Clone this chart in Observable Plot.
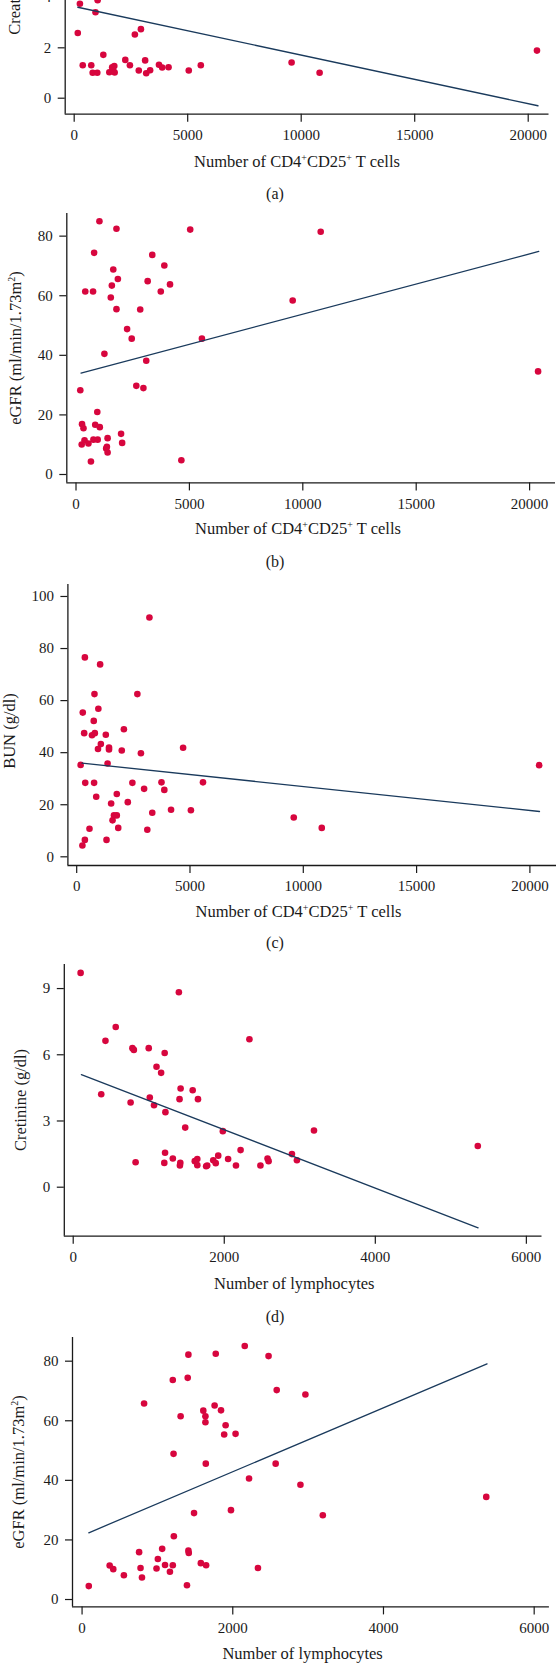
<!DOCTYPE html>
<html><head><meta charset="utf-8">
<script src="https://cdn.jsdelivr.net/npm/d3@7"></script>
<script src="https://cdn.jsdelivr.net/npm/@observablehq/plot@0.6"></script>
<style>
body{margin:0;background:#fff;}
#fig{position:relative;width:556px;height:1664px;overflow:hidden;font-family:"Liberation Serif",serif;color:#1a1a1a;background:#fff;}
.lbl{position:absolute;white-space:nowrap;transform:translate(-50%,-50%);font-size:16.5px;line-height:1;}
.ylbl{position:absolute;white-space:nowrap;transform:translate(-50%,-50%) rotate(-90deg);font-size:16.5px;line-height:1;}
.plab{position:absolute;white-space:nowrap;transform:translate(-50%,-50%);font-size:16px;line-height:1;}
sup{font-size:0.6em;vertical-align:0.55em;line-height:0;}
</style></head><body><div id="fig"></div>
<script>
// ---------- data ----------
// (a) CD4+CD25+ T cells vs creatinine (visible part)
const aX = [252,1033,939,158,2673,2939,1283,377,752,814,1017,1548,1673,1767,1720,1783,2251,2454,2845,3126,3173,3345,3735,3876,4157,5047,5578,9577,10811,20386];
const aY = [3.75,3.89,3.41,2.59,2.53,2.74,1.72,1.31,1.31,1.01,1.01,1.03,1.23,1.28,1.10,1.02,1.52,1.31,1.10,1.50,0.99,1.11,1.33,1.22,1.23,1.10,1.31,1.42,1.01,1.89];
const aFitX = [158, 20430];
const aFitY = [3.61, -0.30];

// (b) CD4+CD25+ T cells vs eGFR
const bX = [1033,1784,5035,10789,799,3363,3894,1643,1846,3160,1580,4145,408,752,3738,1534,9554,1784,2831,2253,2456,5552,1252,3097,20374,2659,2972,189,939,267,330,846,1049,1987,1393,2034,251,376,548,767,955,1330,1393,1362,658,4645];
const bY = [85.0,82.5,82.2,81.45,74.4,73.7,70.15,68.8,65.6,64.9,63.4,63.8,61.4,61.4,61.4,59.4,58.4,55.5,55.4,48.8,45.6,45.6,40.5,38.2,34.6,29.75,29.0,28.3,21.0,16.9,15.5,16.7,15.9,13.65,12.2,10.6,10.06,11.5,10.4,11.7,11.7,8.7,7.4,9.3,4.35,4.8];
const bFitX = [220, 20405];
const bFitY = [34.0, 74.85];

// (c) CD4+CD25+ T cells vs BUN
const cX = [3210,361,1034,784,2678,956,268,753,2083,330,675,800,1285,1066,940,1426,1426,1989,2834,4696,174,1363,20408,377,768,2458,3742,5573,2975,3867,862,1770,1520,2255,4164,5040,3335,1645,1770,1582,1833,565,3116,9579,10815,361,1316,252];
const cY = [91.94,76.6,73.9,62.5,62.5,56.9,55.4,52.2,49.0,47.5,46.7,47.5,46.9,43.3,41.4,42.0,41.2,40.85,39.8,41.9,35.3,35.85,35.2,28.4,28.4,28.4,28.6,28.6,26.1,25.7,23.05,24.1,20.5,21.0,18.05,17.9,16.9,15.9,15.9,14.0,11.1,10.75,10.4,15.1,11.1,6.5,6.5,4.35];
const cFitX = [236, 20424];
const cFitY = [36.0, 17.4];

// (d) lymphocytes vs creatinine
const dX = [98,1399,563,427,2333,784,803,1000,1211,1103,1164,371,1422,1582,760,1014,1408,1652,1070,1221,1483,1981,3188,5357,1216,2216,2896,1319,2051,2573,1643,826,1206,1418,1413,1610,1643,1760,1774,1854,1887,1920,2155,2479,2587,2962];
const dY = [9.71,8.83,7.26,6.63,6.70,6.30,6.22,6.30,6.08,5.46,5.18,4.21,4.47,4.39,3.84,4.06,3.99,3.99,3.71,3.40,2.70,2.54,2.57,1.87,1.56,1.68,1.50,1.30,1.28,1.30,1.28,1.13,1.10,1.10,0.98,1.18,1.00,0.95,0.98,1.22,1.09,1.43,0.98,0.98,1.18,1.22];
const dFitX = [108, 5361];
const dFitY = [5.10, -1.84];

// (e) lymphocytes vs eGFR
const eX = [2159,1411,1774,2475,1204,1402,2583,2964,823,1759,1609,1844,1308,1637,1637,1905,1886,2037,1214,1642,2569,2216,2898,5364,1976,1486,3195,1218,757,1063,1411,1416,1006,1576,366,414,776,988,1101,1204,1646,1166,2334,555,795,89,1392];
const eY = [85.1,82.2,82.5,81.7,73.7,74.4,70.3,68.8,65.8,65.1,63.4,63.5,61.5,61.5,59.5,58.5,55.4,55.6,48.9,45.6,45.6,40.6,38.5,34.45,30.0,29.0,28.3,21.25,15.9,17.0,16.4,15.6,13.6,12.2,11.4,10.2,10.6,10.4,11.6,11.5,11.5,9.3,10.6,8.15,7.4,4.5,4.8];
const eFitX = [89, 5374];
const eFitY = [22.4, 79.1];

// tick values
const cellTicks = [0, 5000, 10000, 15000, 20000];
const lymphTicks = [0, 2000, 4000, 6000];
const creatTicksA = [0, 2, 4, 6, 8, 10];
const egfrTicks = [0, 20, 40, 60, 80];
const bunTicks = [0, 20, 40, 60, 80, 100];
const creatTicksD = [0, 3, 6, 9];

// ---------- layout ----------
const fig = document.getElementById("fig");
const W = 556;

function panel(p, xs, ys, fitX, fitY, xTicks, yTicks) {
  const pts = xs.map((x, i) => ({x, y: ys[i]}));
  const fit = fitX.map((x, i) => ({x, y: fitY[i]}));
  const mt = 12, mb = 48;
  const h = Math.round(p.bottom - p.top) + mt + mb;
  const ink = "#1a1a1a";
  const svg = Plot.plot({
    width: W, height: h,
    marginTop: mt, marginBottom: h - mt - (p.bottom - p.top),
    marginLeft: p.left, marginRight: W - p.right,
    style: {fontFamily: '"Liberation Serif", serif', fontSize: "15px", background: "transparent", overflow: "visible", color: ink},
    x: {domain: p.xDomain},
    y: {domain: p.yDomain},
    marks: [
      Plot.axisX({ticks: xTicks, tickSize: 8, tickPadding: 7, tickFormat: d => String(d), label: null, fontSize: 15, stroke: ink, strokeWidth: 1.2}),
      Plot.axisY({ticks: yTicks, tickSize: 7, tickPadding: 7, tickFormat: d => String(d), label: null, fontSize: 15, stroke: ink, strokeWidth: 1.2}),
      Plot.ruleX([p.xDomain[0]], {stroke: ink, strokeWidth: 1.3}),
      Plot.ruleY([p.yDomain[0]], {stroke: ink, strokeWidth: 1.3}),
      Plot.dot(pts, {x: "x", y: "y", r: 3.3, fill: "#d7063e", stroke: "none"}),
      Plot.line(fit, {x: "x", y: "y", stroke: "#1a3a5c", strokeWidth: 1.3})
    ]
  });
  svg.style.position = "absolute";
  svg.style.left = "0px";
  svg.style.top = (p.top - mt) + "px";
  fig.appendChild(svg);
}

function label(cls, html, x, y) {
  const d = document.createElement("div");
  d.className = cls;
  d.innerHTML = html;
  d.style.left = x + "px";
  d.style.top = y + "px";
  fig.appendChild(d);
}

const cellTitle = "Number of CD4<sup>+</sup>CD25<sup>+</sup> T cells";
const lymphTitle = "Number of lymphocytes";
const egfrTitle = "eGFR (ml/min/1.73m<sup>2</sup>)";

panel({top: -156, bottom: 113.7, left: 64.7, right: 548.5, xDomain: [-396, 20916], yDomain: [-0.635, 10.07]}, aX, aY, aFitX, aFitY, cellTicks, creatTicksA);
panel({top: 213.3, bottom: 482.7, left: 66.3, right: 555, xDomain: [-406, 21142], yDomain: [-2.82, 87.6]}, bX, bY, bFitX, bFitY, cellTicks, egfrTicks);
panel({top: 584, bottom: 865, left: 67.4, right: 556, xDomain: [-388, 21174], yDomain: [-3.34, 104.6]}, cX, cY, cFitX, cFitY, cellTicks, bunTicks);
panel({top: 964.3, bottom: 1236, left: 63.8, right: 541.5, xDomain: [-118, 6207], yDomain: [-2.22, 10.09]}, dX, dY, dFitX, dFitY, lymphTicks, creatTicksD);
panel({top: 1337.3, bottom: 1606.7, left: 72, right: 548.9, xDomain: [-127, 6202], yDomain: [-2.48, 87.95]}, eX, eY, eFitX, eFitY, lymphTicks, egfrTicks);

label("lbl", cellTitle, 297, 162);
label("lbl", cellTitle, 298, 529.3);
label("lbl", cellTitle, 298.5, 911.7);
label("lbl", lymphTitle, 294.3, 1284.3);
label("lbl", lymphTitle, 302.6, 1654);

label("plab", "(a)", 275, 194);
label("plab", "(b)", 275, 561.7);
label("plab", "(c)", 275, 943.3);
label("plab", "(d)", 275, 1316.7);

label("ylbl", "Creatinine (g/dl)", 15, -20);
label("ylbl", egfrTitle, 16, 348);
label("ylbl", "BUN (g/dl)", 10, 731);
label("ylbl", "Cretinine (g/dl)", 21, 1100);
label("ylbl", egfrTitle, 19, 1472);
</script></body></html>
